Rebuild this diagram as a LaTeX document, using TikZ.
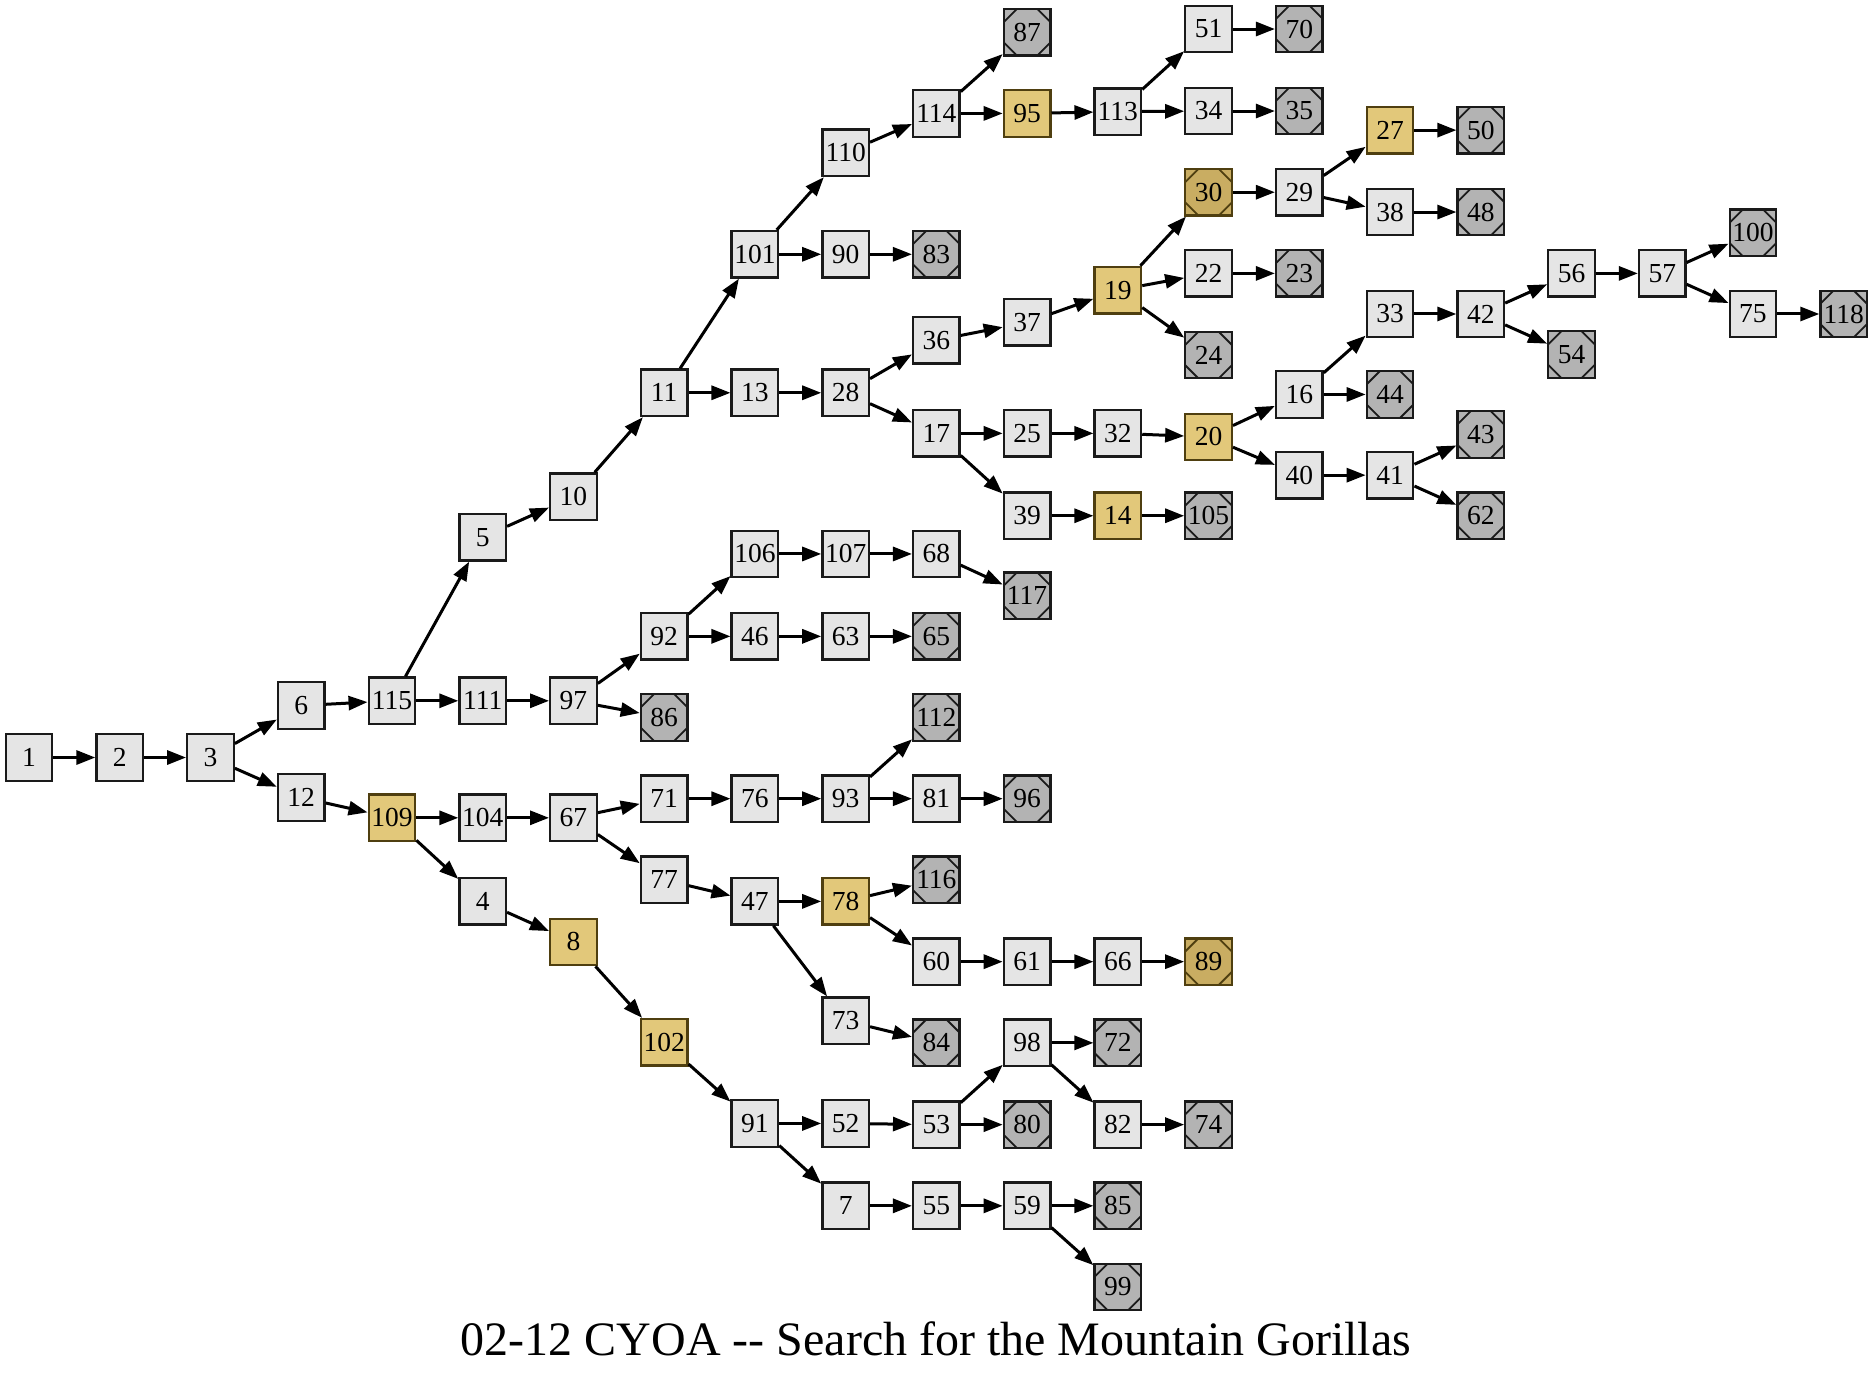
\documentclass[tikz,border=0pt]{standalone}
\usepackage{fontspec}
\setmainfont{Liberation Serif}
\usetikzlibrary{arrows.meta}
\definecolor{plainfill}{HTML}{E5E5E5}
\definecolor{goldfill}{HTML}{E2C87A}
\definecolor{goldend}{HTML}{C9AD62}
\definecolor{goldline}{HTML}{4F3F10}
\definecolor{endfill}{HTML}{B3B3B3}
\definecolor{edgeline}{HTML}{1A1A1A}
\tikzset{
  box/.style={rectangle, minimum size=46.5pt, inner sep=0pt, line width=2.3pt,
    draw=edgeline, fill=plainfill, font=\fontsize{27.5}{27.5}\selectfont},
  gold/.style={box, fill=goldfill, draw=goldline},
  corners/.style={path picture={
    \foreach \a/\dx/\dy in {north west/1/-1, north east/-1/-1, south west/1/1, south east/-1/1}
      \draw[line width=1.8pt, #1]
        ([yshift=\dy*13pt]path picture bounding box.\a) --
        ([xshift=\dx*13pt]path picture bounding box.\a);}},
  ending/.style={box, fill=endfill, corners=edgeline},
  goldending/.style={box, fill=goldend, draw=goldline, corners=goldline},
  link/.style={line width=3pt, draw=black, -{Triangle[length=19pt,width=14pt]}}
}
\begin{document}
\begin{tikzpicture}[x=1.19388pt, y=-1.19388pt]
\useasboundingbox (0,0) rectangle (1568,1151.7);
% column 0-4
\node[box] (n1) at (24.3,634.5) {1};
\node[box] (n2) at (100.3,634.5) {2};
\node[box] (n3) at (176.3,634.5) {3};
\node[box] (n6) at (252.3,591) {6};
\node[box] (n12) at (252.3,668) {12};
\node[box] (n115) at (328.3,587) {115};
\node[gold] (n109) at (328.3,685) {109};
% column 5
\node[box] (n5) at (404.3,450) {5};
\node[box] (n111) at (404.3,587) {111};
\node[box] (n104) at (404.3,685) {104};
\node[box] (n4) at (404.3,755) {4};
% column 6
\node[box] (n10) at (480.3,416) {10};
\node[box] (n97) at (480.3,587) {97};
\node[box] (n67) at (480.3,685) {67};
\node[gold] (n8) at (480.3,789) {8};
% column 7
\node[box] (n11) at (556.3,329) {11};
\node[box] (n92) at (556.3,533) {92};
\node[ending] (n86) at (556.3,601) {86};
\node[box] (n71) at (556.3,669) {71};
\node[box] (n77) at (556.3,737) {77};
\node[gold] (n102) at (556.3,873) {102};
% column 8
\node[box] (n101) at (632.3,213) {101};
\node[box] (n13) at (632.3,329) {13};
\node[box] (n106) at (632.3,464) {106};
\node[box] (n46) at (632.3,533) {46};
\node[box] (n76) at (632.3,669) {76};
\node[box] (n47) at (632.3,755) {47};
\node[box] (n91) at (632.3,941) {91};
% column 9
\node[box] (n110) at (708.3,128) {110};
\node[box] (n90) at (708.3,213) {90};
\node[box] (n28) at (708.3,329) {28};
\node[box] (n107) at (708.3,464) {107};
\node[box] (n63) at (708.3,533) {63};
\node[box] (n93) at (708.3,669) {93};
\node[gold] (n78) at (708.3,755) {78};
\node[box] (n73) at (708.3,855) {73};
\node[box] (n52) at (708.3,941) {52};
\node[box] (n7) at (708.3,1010) {7};
% column 10
\node[box] (n114) at (784.3,95) {114};
\node[ending] (n83) at (784.3,213) {83};
\node[box] (n36) at (784.3,285) {36};
\node[box] (n17) at (784.3,363) {17};
\node[box] (n68) at (784.3,464) {68};
\node[ending] (n65) at (784.3,533) {65};
\node[ending] (n112) at (784.3,601) {112};
\node[box] (n81) at (784.3,669) {81};
\node[ending] (n116) at (784.3,737) {116};
\node[box] (n60) at (784.3,805.5) {60};
\node[ending] (n84) at (784.3,873.5) {84};
\node[box] (n53) at (784.3,942) {53};
\node[box] (n55) at (784.3,1010) {55};
% column 11
\node[ending] (n87) at (860.3,27) {87};
\node[gold] (n95) at (860.3,95) {95};
\node[box] (n37) at (860.3,270) {37};
\node[box] (n25) at (860.3,363) {25};
\node[box] (n39) at (860.3,432) {39};
\node[ending] (n117) at (860.3,499) {117};
\node[ending] (n96) at (860.3,669) {96};
\node[box] (n61) at (860.3,805.5) {61};
\node[box] (n98) at (860.3,873.5) {98};
\node[ending] (n80) at (860.3,942) {80};
\node[box] (n59) at (860.3,1010) {59};
% column 12
\node[box] (n113) at (936.3,93.5) {113};
\node[gold] (n19) at (936.3,243) {19};
\node[box] (n32) at (936.3,363) {32};
\node[gold] (n14) at (936.3,432) {14};
\node[box] (n66) at (936.3,805.5) {66};
\node[ending] (n72) at (936.3,873.5) {72};
\node[box] (n82) at (936.3,942) {82};
\node[ending] (n85) at (936.3,1010) {85};
\node[ending] (n99) at (936.3,1078) {99};
% column 13
\node[box] (n51) at (1012.3,24.3) {51};
\node[box] (n34) at (1012.3,93) {34};
\node[goldending] (n30) at (1012.3,161) {30};
\node[box] (n22) at (1012.3,229) {22};
\node[ending] (n24) at (1012.3,297.4) {24};
\node[gold] (n20) at (1012.3,366) {20};
\node[ending] (n105) at (1012.3,432) {105};
\node[goldending] (n89) at (1012.3,805.5) {89};
\node[ending] (n74) at (1012.3,942) {74};
% column 14
\node[ending] (n70) at (1088.3,24.3) {70};
\node[ending] (n35) at (1088.3,93) {35};
\node[box] (n29) at (1088.3,161) {29};
\node[ending] (n23) at (1088.3,229) {23};
\node[box] (n16) at (1088.3,330.4) {16};
\node[box] (n40) at (1088.3,398) {40};
% column 15
\node[gold] (n27) at (1164.3,109) {27};
\node[box] (n38) at (1164.3,177.6) {38};
\node[box] (n33) at (1164.3,263) {33};
\node[ending] (n44) at (1164.3,330.4) {44};
\node[box] (n41) at (1164.3,398) {41};
% column 16
\node[ending] (n50) at (1240.3,109) {50};
\node[ending] (n48) at (1240.3,177.6) {48};
\node[box] (n42) at (1240.3,263) {42};
\node[ending] (n43) at (1240.3,364) {43};
\node[ending] (n62) at (1240.3,432) {62};
% columns 17-20
\node[box] (n56) at (1316.3,229) {56};
\node[ending] (n54) at (1316.3,297) {54};
\node[box] (n57) at (1392.3,229) {57};
\node[ending] (n100) at (1468.3,195) {100};
\node[box] (n75) at (1468.3,263) {75};
\node[ending] (n118) at (1544.3,263) {118};
% title
\node[anchor=base, font=\fontsize{48}{48}\selectfont, inner sep=0pt] (title) at (784,1135) {02-12 CYOA -{}- Search for the Mountain Gorillas};
% connectors
\foreach \s/\t in {1/2, 2/3, 3/6, 3/12, 6/115, 12/109, 115/5, 115/111, 109/104, 109/4,
  5/10, 10/11, 111/97, 97/92, 97/86, 104/67, 4/8, 8/102, 11/101, 11/13, 92/106, 92/46,
  67/71, 67/77, 102/91, 101/110, 101/90, 13/28, 106/107, 46/63, 71/76, 76/93, 77/47,
  47/78, 47/73, 91/52, 91/7, 110/114, 90/83, 28/36, 28/17, 107/68, 63/65, 93/112, 93/81,
  78/116, 78/60, 73/84, 52/53, 7/55, 114/87, 114/95, 36/37, 17/25, 17/39, 68/117, 81/96,
  60/61, 53/98, 53/80, 55/59, 95/113, 37/19, 25/32, 39/14, 61/66, 98/72, 98/82, 59/85,
  59/99, 113/51, 113/34, 19/30, 19/22, 19/24, 32/20, 14/105, 66/89, 82/74, 51/70, 34/35,
  30/29, 22/23, 20/16, 20/40, 29/27, 29/38, 16/33, 16/44, 40/41, 27/50, 38/48, 33/42,
  41/43, 41/62, 42/56, 42/54, 56/57, 57/100, 57/75, 75/118}
  \draw[link] (n\s) -- (n\t);
\end{tikzpicture}
\end{document}
